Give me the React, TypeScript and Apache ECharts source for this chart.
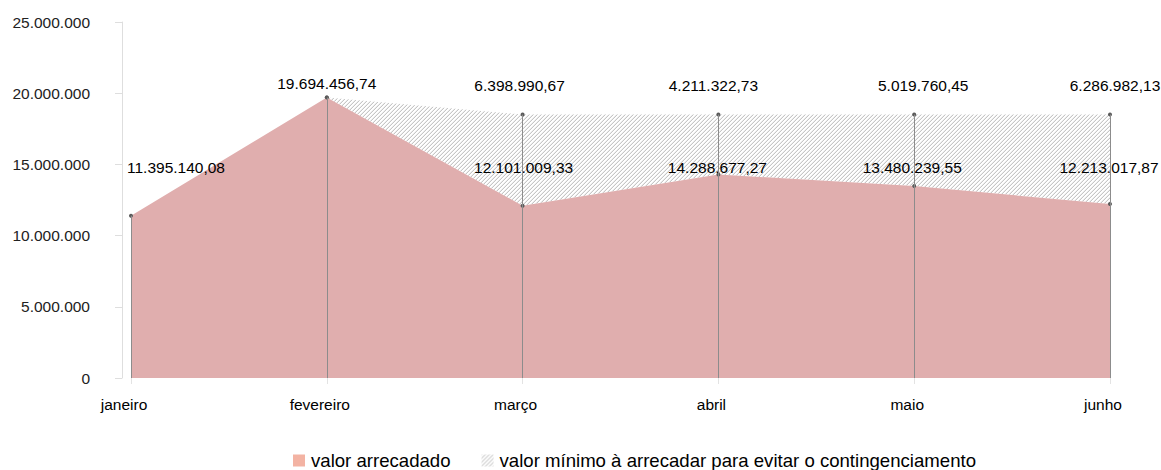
import React, { useEffect, useRef } from "react";
import * as echarts from "echarts";

const categories = ["janeiro", "fevereiro", "março", "abril", "maio", "junho"];
const valorArrecadado = [11395140.08, 19694456.74, 12101009.33, 14288677.27, 13480239.55, 12213017.87];
const valorMinimo: (number | null)[] = [null, 0, 6398990.67, 4211322.73, 5019760.45, 6286982.13];
const seriesNames = ["valor arrecadado", "valor mínimo à arrecadar para evitar o contingenciamento"];
const yMin = 0;
const yMax = 25000000;
const yInterval = 5000000;

// label placement styling (pixel rows and nudges)
const ROW_LOW = 167;
const ROW_HIGH = 85;
const lowNudgeX = [45, 0, 1, -1, -2, -1];
const highNudgeX = [0, -1, -3, -5, 9, 5];
const lowOnHighRow = [false, true, false, false, false, false];

const FONT = "'Liberation Sans', Arial, sans-serif";
const FS = 15.5;

function fmtInt(v: number): string {
  return Math.round(v).toString().replace(/\B(?=(\d{3})+(?!\d))/g, ".");
}
function fmtDec(v: number): string {
  const [i, d] = v.toFixed(2).split(".");
  return fmtInt(Number(i)) + "," + d;
}

function makeHatch(): HTMLCanvasElement {
  const n = 4;
  const c = document.createElement("canvas");
  c.width = n;
  c.height = n;
  const ctx = c.getContext("2d")!;
  ctx.fillStyle = "#ffffff";
  ctx.fillRect(0, 0, n, n);
  ctx.fillStyle = "#c6c6c6";
  for (let i = 0; i < n; i++) ctx.fillRect(i, n - 1 - i, 1, 1);
  ctx.fillStyle = "#eeeeee";
  for (let i = 0; i < n; i++) ctx.fillRect(i, (2 * n - 2 - i) % n, 1, 1);
  return c;
}

function buildOption(hatch: HTMLCanvasElement, lowOff: number[][] | null, highOff: number[][] | null) {
  const tops = valorArrecadado.map((v, i) => v + (valorMinimo[i] ?? 0));
  const pattern = { image: hatch, repeat: "repeat", imageWidth: hatch.width, imageHeight: hatch.height };
  const labelBase = {
    show: true,
    position: "inside",
    color: "#000",
    fontSize: FS,
    fontFamily: FONT,
  };
  return {
    animation: false,
    textStyle: { fontFamily: FONT },
    grid: { left: 131, right: 51, top: 22, bottom: 92, containLabel: false },
    legend: {
      left: 293,
      top: 451,
      padding: 0,
      icon: "rect",
      itemWidth: 12,
      itemHeight: 12,
      itemGap: 31,
      selectedMode: false,
      textStyle: { fontSize: 18.6, lineHeight: 18, color: "#000", fontFamily: FONT, padding: [0, 0, 0, 1] },
      data: [
        { name: seriesNames[0], itemStyle: { color: "#f3b3a3" } },
        { name: seriesNames[1], itemStyle: { color: pattern } },
      ],
    },
    xAxis: {
      type: "category",
      data: categories,
      boundaryGap: false,
      axisLine: { show: false },
      axisTick: { show: true, length: 6, lineStyle: { color: "#e3e3e3" } },
      splitLine: { show: false },
      axisLabel: {
        color: "#000",
        fontSize: FS,
        fontFamily: FONT,
        margin: 18,
        padding: [0, 14, 0, 0],
      },
    },
    yAxis: {
      type: "value",
      min: yMin,
      max: yMax,
      interval: yInterval,
      offset: 9,
      axisLine: { show: true, lineStyle: { color: "#dedede" } },
      axisTick: { show: true, length: 7, lineStyle: { color: "#dedede" } },
      splitLine: { show: false },
      axisLabel: {
        color: "#222",
        fontSize: FS,
        fontFamily: FONT,
        margin: 32,
        formatter: (v: number) => fmtInt(v),
      },
    },
    series: [
      {
        name: seriesNames[0],
        type: "line",
        stack: "total",
        symbol: "circle",
        symbolSize: 4,
        showSymbol: true,
        itemStyle: { color: "#5a5a5a" },
        lineStyle: { width: 0, color: "#e0aeae" },
        areaStyle: { color: "#e0aeae", opacity: 1 },
        data: valorArrecadado.map((v, i) => ({
          value: v,
          label: {
            ...labelBase,
            formatter: () => fmtDec(v),
            offset: lowOff ? lowOff[i] : [0, 0],
          },
        })),
        markLine: {
          silent: true,
          symbol: ["none", "none"],
          label: { show: false },
          lineStyle: { color: "#8c8c8c", width: 1, type: "solid" },
          data: categories.map((c, i) => [
            { coord: [c, 0] },
            { coord: [c, tops[i]] },
          ]),
        },
        z: 3,
      },
      {
        name: seriesNames[1],
        type: "line",
        stack: "total",
        symbol: "circle",
        symbolSize: 4,
        showSymbol: true,
        itemStyle: { color: "#5a5a5a" },
        lineStyle: { width: 0, color: "#cfcfcf" },
        areaStyle: { color: pattern, opacity: 1 },
        data: valorMinimo.map((v, i) =>
          v === null
            ? null
            : {
                value: v,
                label:
                  v === 0
                    ? { show: false }
                    : {
                        ...labelBase,
                        formatter: () => fmtDec(v),
                        offset: highOff ? highOff[i] : [0, 0],
                      },
              }
        ),
        z: 2,
      },
    ],
  };
}

export default function App() {
  const ref = useRef<HTMLDivElement>(null);
  useEffect(() => {
    document.body.style.margin = "0";
    if (!ref.current) return;
    const hatch = makeHatch();
    const chart = echarts.init(ref.current, null, { renderer: "svg" });
    chart.setOption(buildOption(hatch, null, null) as any);
    const lowOff = valorArrecadado.map((v, i) => {
      const py = chart.convertToPixel({ yAxisIndex: 0 }, v) as number;
      const row = lowOnHighRow[i] ? ROW_HIGH - 2 : ROW_LOW;
      return [lowNudgeX[i], row - py];
    });
    const highOff = valorMinimo.map((v, i) => {
      const total = valorArrecadado[i] + (v ?? 0);
      const py = chart.convertToPixel({ yAxisIndex: 0 }, total) as number;
      return [highNudgeX[i], ROW_HIGH - py];
    });
    chart.setOption(buildOption(hatch, lowOff, highOff) as any);
    return () => chart.dispose();
  }, []);
  return <div ref={ref} style={{ width: 1161, height: 470 }} />;
}
